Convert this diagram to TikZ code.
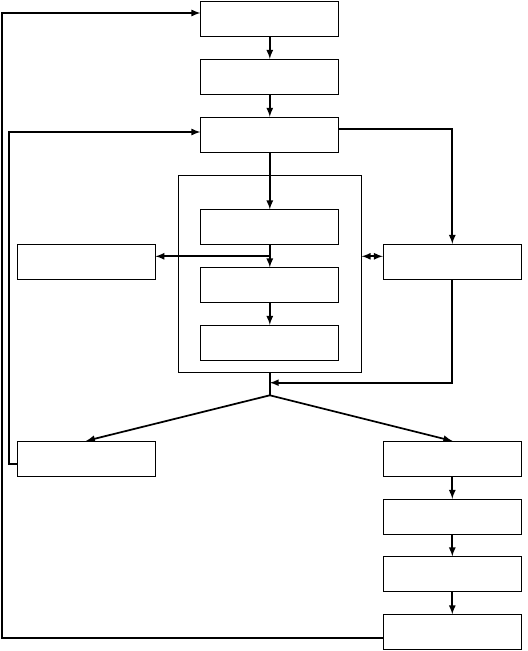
\documentclass[tikz,border=0pt]{standalone}
\usepackage{tikz}
\usetikzlibrary{arrows}

\begin{document}
\begin{tikzpicture}[>=latex, x=0.75pt, y=-0.75pt,
		box/.style={draw, line width=0.6pt, minimum width=103.5pt, minimum height=26.25pt, inner sep=0pt},
		link/.style={line width=1.3pt}]
			\useasboundingbox (0,0) rectangle (528,651);

			\node (frame) [draw, line width=0.6pt, minimum width=137.25pt, minimum height=147.75pt, inner sep=0pt] at (269.8,273.5) {};

			\node (B1) [box] at (269.8,18.5) {};
			\node (B2) [box] at (269.8,76.8) {};
			\node (B3) [box] at (269.8,134.7) {};

			\node (S1) [box] at (269.8,227.3) {};
			\node (S2) [box] at (269.8,285.3) {};
			\node (S3) [box] at (269.8,342.8) {};

			\node (L1) [box] at (86,261.8) {};
			\node (R1) [box] at (452.3,261.8) {};

			\node (L2) [box] at (86,458.8) {};
			\node (R2) [box] at (452.3,458.8) {};
			\node (R3) [box] at (452.3,516.8) {};
			\node (R4) [box] at (452.3,574.3) {};
			\node (R5) [box] at (452.3,632.2) {};

			\coordinate (jn) at (269.8,256.3);
			\coordinate (rt) at (452.3,128.7);
			\coordinate (mg) at (452.3,382.7);
			\coordinate (apex) at (269.8,395.3);
			\coordinate (outA) at (2,13);
			\coordinate (outB) at (2,637.7);
			\coordinate (inA) at (9,132);
			\coordinate (inB) at (9,464);

			\draw [link, ->] (B1) -- (B2);
			\draw [link, ->] (B2) -- (B3);
			\draw [link, ->] (B3) -- (S1);
			\draw [link, ->] (S1) -- (S2);
			\draw [link, ->] (S2) -- (S3);
			\draw [link, ->] (jn) -- (jn -| L1.east);
			\draw [link, <->] (jn -| frame.east) -- (jn -| R1.west);

			\draw [link, ->] (B3.east |- rt) -- (rt) -- (R1.north);
			\draw [link, ->] (R1.south) -- (mg) -- (mg -| apex);
			\draw [link] (frame.south) -- (apex);
			\draw [link, ->] (apex) -- (L2.north);
			\draw [link, ->] (apex) -- (R2.north);

			\draw [link, ->] (R2) -- (R3);
			\draw [link, ->] (R3) -- (R4);
			\draw [link, ->] (R4) -- (R5);

			\draw [link, ->] (R5.west |- outB) -- (outB) -- (outA) -- (outA -| B1.west);
			\draw [link, ->] (L2.west |- inB) -- (inB) -- (inA) -- (inA -| B3.west);
		\end{tikzpicture}
\end{document}
